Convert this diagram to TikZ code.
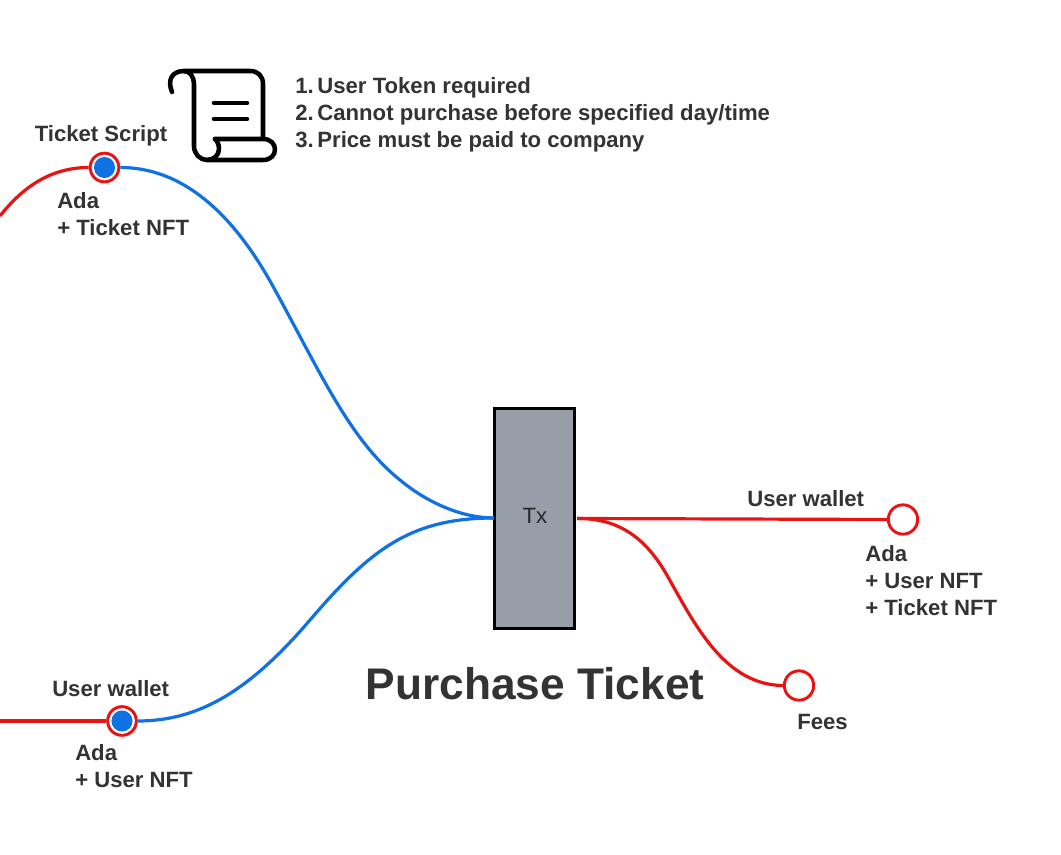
\documentclass[tikz,border=0pt]{standalone}
\usepackage{fontspec}
\setmainfont{Liberation Sans}
\definecolor{myred}{HTML}{E81313}
\definecolor{myblue}{HTML}{1071E5}
\definecolor{mytext}{HTML}{333333}
\definecolor{mygray}{HTML}{979EA8}
\tikzset{
  x=0.75pt,y=-0.75pt,
  lbl/.style={text=mytext,font=\fontsize{16.6}{20.25}\selectfont\bfseries,align=left,inner sep=0pt,anchor=north west},
  redline/.style={draw=myred,line width=2.4pt},
  blueline/.style={draw=myblue,line width=2.4pt},
  port/.style={circle,draw=myred,fill=white,line width=2.2pt,minimum size=22pt,inner sep=0pt},
  portfull/.style={circle,draw=myred,fill=white,line width=2.2pt,minimum size=21.5pt,inner sep=0pt,
    path picture={\fill[myblue] (path picture bounding box.center) circle (7.9pt);}},
  icon/.style={draw=black,line width=3.4pt,line cap=round,line join=round}
}
\begin{document}
\begin{tikzpicture}
\useasboundingbox (0,0) rectangle (1061,855);
% transaction box
\node[draw=black,fill=mygray,line width=2.5pt,minimum width=59.8pt,minimum height=164.5pt,inner sep=0pt] (tx) at (534.5,518.5) {};
\node[font=\fontsize{16.6}{20}\selectfont,text=black!85,inner sep=0pt] (txl) at (535,516) {Tx};
% free ends
\coordinate (leftA) at (0,216);
\coordinate (leftB) at (0,721);
\coordinate (txin) at (494,518);
\coordinate (txout) at (577,518.5);
% ports
\node[port] (w1) at (903,519.5) {};
\node[port] (fees) at (799,685.5) {};
% connectors
\draw[redline] (txout) -- (w1.west);
\draw[redline] (txout) .. controls (625,518) and (650,545) .. (668,577) .. controls (695,625) and (725,685) .. (fees.west);
\node[portfull] (ts) at (104.5,167.5) {};
\node[portfull] (uw) at (122,721) {};
\draw[redline] (leftA) .. controls (22,188) and (50,167.5) .. (ts.west);
\draw[redline] (leftB) -- (uw.west);
\draw[blueline] (ts.east) .. controls (190,167.5) and (240,225) .. (275,290) .. controls (320,372) and (350,440) .. (400,480) .. controls (430,505) and (465,518) .. (txin);
\draw[blueline] (uw.east) .. controls (200,721) and (250,690) .. (310,620) .. controls (370,550) and (410,518) .. (txin);
% labels
\node[lbl] (l1) at (34.5,125) {Ticket Script};
\node[lbl] (l2) at (57,192) {Ada\\+ Ticket NFT};
\node[lbl] (l3) at (52,680.5) {User wallet};
\node[lbl] (l4) at (75,744) {Ada\\+ User NFT};
\node[lbl] (l5) at (747,490.5) {User wallet};
\node[lbl] (l6) at (865,545.5) {Ada\\+ User NFT\\+ Ticket NFT};
\node[lbl] (l7) at (797,714.5) {Fees};
\node[lbl] (l8) at (295,77.5) {1.\,User Token required\\2.\,Cannot purchase before specified day/time\\3.\,Price must be paid to company};
\node[text=mytext,font=\fontsize{33.2}{40}\selectfont\bfseries,inner sep=0pt] (title) at (535,684) {Purchase Ticket};
% scroll icon
\draw[icon] (172,92) .. controls (167,80) and (172,71) .. (184,71) -- (250,71) .. controls (258,71) and (263,76) .. (263,84) -- (263,138);
\draw[icon] (184,71) .. controls (190,71) and (194,77) .. (194,84) -- (194,146) .. controls (194,154) and (200,160) .. (207,160) -- (263,160) .. controls (279,160) and (279,139) .. (263,139) -- (215,139);
\draw[icon] (207,160) .. controls (214,160) and (219,155) .. (219,149) .. controls (219,144) and (217,141) .. (215,139);
\draw[icon] (214,103) -- (247,103);
\draw[icon] (214,119) -- (247,119);
\end{tikzpicture}
\end{document}
